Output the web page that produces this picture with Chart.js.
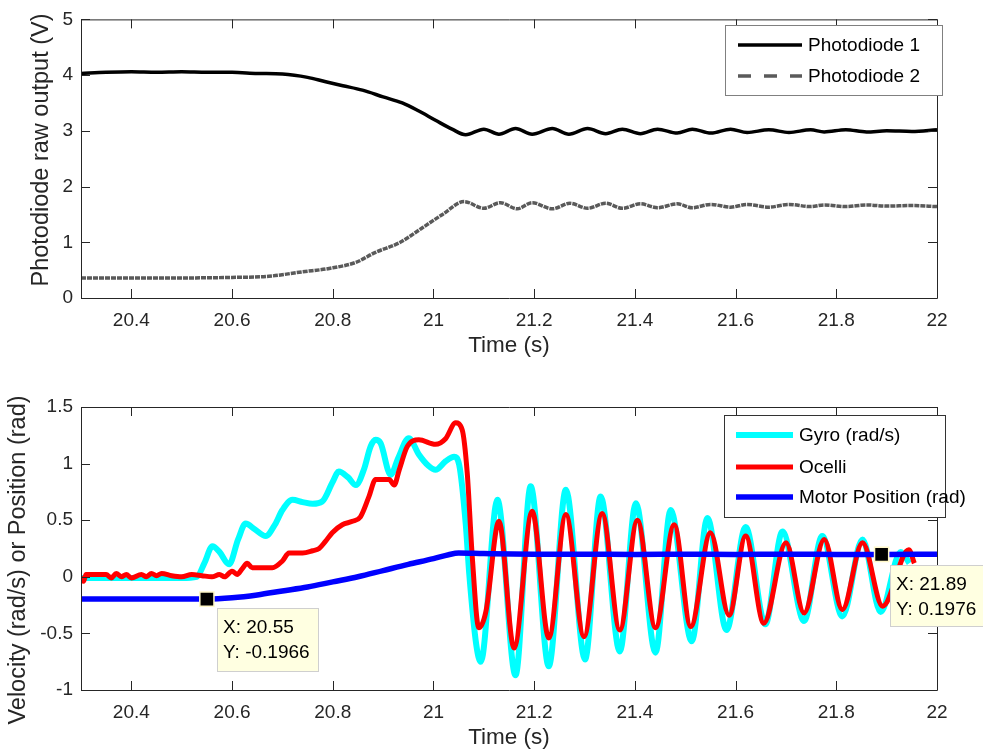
<!DOCTYPE html>
<html lang="en">
  <head>
    <meta charset="UTF-8" />
    <title>Photodiode and ocelli response</title>
    <style>
      body { margin: 0; background: #fff; }
      .panel { position: absolute; left: 0; width: 983px; height: 376px; }
    </style>
  </head>
  <body>
    <div class="panel" style="top: 0"><canvas id="topChart" width="983" height="376"></canvas></div>
    <div class="panel" style="top: 376px"><canvas id="bottomChart" width="983" height="376"></canvas></div>
    <script src="https://cdn.jsdelivr.net/npm/chart.js"></script>
    <script>
      // ---- data ----
      const xTicks = [20.4, 20.6, 20.8, 21, 21.2, 21.4, 21.6, 21.8, 22];
      const topYTicks = [0, 1, 2, 3, 4, 5];
      const bottomYTicks = [-1, -0.5, 0, 0.5, 1, 1.5];

      const pd1Time = [20.3, 20.35, 20.4, 20.45, 20.5, 20.55, 20.6, 20.65, 20.7, 20.75, 20.786, 20.82, 20.859, 20.9, 20.938, 20.97, 21.004, 21.037, 21.064, 21.1, 21.13, 21.163, 21.196, 21.236, 21.269, 21.306, 21.342, 21.375, 21.411, 21.445, 21.484, 21.514, 21.551, 21.59, 21.623, 21.666, 21.706, 21.749, 21.776, 21.819, 21.86, 21.9, 21.95, 22];
      const pd1Volts = [4.03, 4.05, 4.06, 4.05, 4.06, 4.05, 4.05, 4.03, 4.02, 3.96, 3.88, 3.81, 3.73, 3.61, 3.5, 3.36, 3.19, 3.03, 2.93, 3.03, 2.94, 3.04, 2.94, 3.04, 2.94, 3.04, 2.95, 3.03, 2.95, 3.03, 2.96, 3.03, 2.96, 3.03, 2.97, 3.02, 2.97, 3.02, 2.98, 3.02, 2.98, 3.0, 2.99, 3.02];

      const pd2Time = [20.3, 20.4, 20.5, 20.6, 20.673, 20.74, 20.793, 20.846, 20.885, 20.932, 20.978, 21.018, 21.061, 21.1, 21.133, 21.166, 21.196, 21.236, 21.271, 21.306, 21.342, 21.375, 21.411, 21.445, 21.484, 21.514, 21.551, 21.59, 21.623, 21.666, 21.706, 21.749, 21.776, 21.819, 21.86, 21.9, 21.95, 22];
      const pd2Volts = [0.36, 0.36, 0.36, 0.37, 0.39, 0.47, 0.53, 0.64, 0.82, 0.99, 1.26, 1.5, 1.73, 1.61, 1.71, 1.6, 1.71, 1.6, 1.7, 1.61, 1.7, 1.61, 1.69, 1.62, 1.69, 1.62, 1.68, 1.63, 1.68, 1.63, 1.68, 1.64, 1.67, 1.64, 1.67, 1.65, 1.66, 1.64];

      const gyroTime = [20.3, 20.35, 20.4, 20.45, 20.5, 20.53, 20.545, 20.561, 20.575, 20.594, 20.612, 20.627, 20.645, 20.667, 20.685, 20.7, 20.72, 20.74, 20.76, 20.779, 20.8, 20.812, 20.83, 20.846, 20.862, 20.875, 20.885, 20.895, 20.915, 20.93, 20.951, 20.971, 20.99, 21.004, 21.024, 21.041, 21.051, 21.064, 21.071, 21.085, 21.094, 21.127, 21.163, 21.193, 21.229, 21.263, 21.301, 21.332, 21.37, 21.402, 21.441, 21.471, 21.513, 21.544, 21.582, 21.62, 21.659, 21.693, 21.736, 21.772, 21.812, 21.852, 21.888, 21.928, 21.945];
      const gyroVel = [-0.01, -0.01, -0.01, -0.01, -0.01, 0.0, 0.12, 0.27, 0.22, 0.11, 0.33, 0.47, 0.42, 0.36, 0.46, 0.59, 0.68, 0.66, 0.645, 0.665, 0.84, 0.93, 0.88, 0.81, 0.95, 1.15, 1.21, 1.18, 0.9, 1.05, 1.225, 1.08, 0.98, 0.945, 1.02, 1.06, 0.99, 0.47, 0.03, -0.6, -0.75, 0.68, -0.87, 0.8, -0.79, 0.77, -0.73, 0.71, -0.66, 0.65, -0.67, 0.59, -0.57, 0.52, -0.47, 0.44, -0.42, 0.4, -0.39, 0.36, -0.35, 0.33, -0.31, 0.22, 0.12];

      const ocelliTime = [20.3, 20.305, 20.31, 20.33, 20.35, 20.36, 20.37, 20.38, 20.39, 20.4, 20.42, 20.43, 20.44, 20.45, 20.46, 20.48, 20.5, 20.52, 20.54, 20.56, 20.575, 20.585, 20.6, 20.61, 20.62, 20.63, 20.64, 20.68, 20.7, 20.713, 20.74, 20.76, 20.773, 20.785, 20.799, 20.819, 20.839, 20.855, 20.872, 20.885, 20.912, 20.922, 20.932, 20.948, 20.971, 21.004, 21.024, 21.044, 21.057, 21.067, 21.077, 21.09, 21.104, 21.13, 21.16, 21.196, 21.229, 21.263, 21.299, 21.335, 21.37, 21.405, 21.441, 21.478, 21.511, 21.55, 21.587, 21.62, 21.656, 21.7, 21.736, 21.776, 21.812, 21.852, 21.892, 21.944, 21.955];
      const ocelliVel = [0.0, -0.04, 0.02, 0.02, 0.02, -0.01, 0.03, 0.0, 0.02, -0.01, 0.02, 0.0, 0.03, 0.01, 0.03, 0.01, 0.0, 0.02, 0.01, 0.0, 0.02, 0.0, 0.05, 0.02, 0.07, 0.12, 0.08, 0.08, 0.14, 0.21, 0.21, 0.23, 0.25, 0.31, 0.39, 0.46, 0.49, 0.53, 0.71, 0.86, 0.86, 0.81, 0.945, 1.15, 1.21, 1.17, 1.22, 1.36, 1.3, 0.92, 0.18, -0.45, -0.31, 0.49, -0.63, 0.58, -0.54, 0.55, -0.53, 0.56, -0.47, 0.5, -0.45, 0.46, -0.44, 0.39, -0.34, 0.36, -0.41, 0.3, -0.32, 0.33, -0.29, 0.3, -0.26, 0.24, 0.12];

      const motorTime = [20.3, 20.4, 20.5, 20.55, 20.6, 20.65, 20.7, 20.75, 20.8, 20.85, 20.9, 20.95, 21.0, 21.03, 21.05, 21.1, 21.2, 21.3, 21.4, 21.5, 21.6, 21.7, 21.8, 21.89, 22];
      const motorPos = [-0.197, -0.197, -0.197, -0.1966, -0.185, -0.16, -0.125, -0.09, -0.045, 0.0, 0.055, 0.11, 0.16, 0.195, 0.21, 0.205, 0.2, 0.2, 0.198, 0.2, 0.198, 0.2, 0.198, 0.1976, 0.2];

      const tipTime = [20.55, 21.89];
      const tipValue = [-0.1966, 0.1976];

      // ---- look ----
      const FONT = "'Liberation Sans', Arial, sans-serif";
      const AXIS_COLOR = '#262626';
      const TICK = 9;

      const pts = (xs, ys) => xs.map((x, i) => ({ x: x, y: ys[i] }));

      // MATLAB style box with inward ticks
      const matlabAxes = {
        id: 'matlabAxes',
        afterDatasetsDraw(chart) {
          const { ctx, chartArea: a } = chart;
          const xs = chart.scales.x;
          const ys = chart.scales.y;
          ctx.save();
          ctx.strokeStyle = AXIS_COLOR;
          ctx.lineWidth = 1;
          ctx.beginPath();
          xs.ticks.forEach((t) => {
            const px = Math.round(xs.getPixelForValue(t.value)) + 0.5;
            ctx.moveTo(px, a.bottom);
            ctx.lineTo(px, a.bottom - TICK);
            ctx.moveTo(px, a.top);
            ctx.lineTo(px, a.top + TICK);
          });
          ys.ticks.forEach((t) => {
            const py = Math.round(ys.getPixelForValue(t.value)) + 0.5;
            ctx.moveTo(a.left, py);
            ctx.lineTo(a.left + TICK, py);
            ctx.moveTo(a.right, py);
            ctx.lineTo(a.right - TICK, py);
          });
          ctx.rect(a.left + 0.5, a.top + 0.5, a.right - a.left, a.bottom - a.top);
          ctx.stroke();
          ctx.restore();
        },
      };

      // rotated y label, placed like the figure
      const sideTitle = {
        id: 'sideTitle',
        afterDraw(chart, args, o) {
          if (!o.text) return;
          const ctx = chart.ctx;
          ctx.save();
          ctx.translate(o.x, o.y);
          ctx.rotate(-Math.PI / 2);
          ctx.fillStyle = AXIS_COLOR;
          ctx.font = o.size + 'px ' + FONT;
          ctx.textAlign = 'center';
          ctx.textBaseline = 'middle';
          ctx.fillText(o.text, 0, 0);
          ctx.restore();
        },
      };

      // boxed legend inside the axes
      const boxLegend = {
        id: 'boxLegend',
        afterDraw(chart, args, o) {
          if (!o.box) return;
          const ctx = chart.ctx;
          const [bx, by, bw, bh] = o.box;
          ctx.save();
          ctx.fillStyle = '#fff';
          ctx.fillRect(bx, by, bw, bh);
          ctx.strokeStyle = o.border;
          ctx.lineWidth = 1;
          ctx.strokeRect(bx + 0.5, by + 0.5, bw, bh);
          ctx.font = o.size + 'px ' + FONT;
          ctx.textBaseline = 'middle';
          ctx.textAlign = 'left';
          o.items.forEach((idx, i) => {
            const ds = chart.data.datasets[idx];
            const y = o.rows[i];
            ctx.beginPath();
            ctx.strokeStyle = ds.borderColor;
            ctx.lineWidth = ds.borderWidth;
            ctx.setLineDash(ds.legendDash || []);
            ctx.moveTo(o.lineX[0], y);
            ctx.lineTo(o.lineX[1], y);
            ctx.stroke();
            ctx.setLineDash([]);
            ctx.fillStyle = '#000';
            ctx.fillText(ds.label, o.textX, y + 1);
          });
          ctx.restore();
        },
      };

      // MATLAB data-tip boxes
      const dataTips = {
        id: 'dataTips',
        afterDraw(chart, args, o) {
          if (!o.boxes) return;
          const ctx = chart.ctx;
          ctx.save();
          ctx.font = o.size + 'px ' + FONT;
          ctx.textBaseline = 'middle';
          o.boxes.forEach((b, i) => {
            ctx.fillStyle = '#ffffe1';
            ctx.fillRect(b.x, b.y, b.w, b.h);
            ctx.strokeStyle = '#cfcfcf';
            ctx.lineWidth = 1;
            ctx.strokeRect(b.x + 0.5, b.y + 0.5, b.w, b.h);
            ctx.fillStyle = '#000';
            ctx.fillText('X: ' + tipTime[i], b.x + 6, b.y + 20);
            ctx.fillText('Y: ' + tipValue[i], b.x + 6, b.y + 45);
          });
          ctx.restore();
        },
      };

      function makeScales(yMin, yMax, yTicks, xAxisHeight, titlePadBottom) {
        return {
          x: {
            type: 'linear',
            min: 20.3,
            max: 22,
            afterBuildTicks: (s) => { s.ticks = xTicks.map((v) => ({ value: v })); },
            afterFit: (s) => { s.height = xAxisHeight; },
            grid: { display: false, drawTicks: false },
            border: { display: false },
            ticks: {
              padding: 11, autoSkip: false, maxRotation: 0, color: AXIS_COLOR,
              font: { family: FONT, size: 19 },
              callback: (v) => String(v),
            },
            title: {
              display: true, text: 'Time (s)', color: AXIS_COLOR,
              font: { family: FONT, size: 22.5 },
              padding: { top: 0, bottom: titlePadBottom },
            },
          },
          y: {
            min: yMin,
            max: yMax,
            afterBuildTicks: (s) => { s.ticks = yTicks.map((v) => ({ value: v })); },
            afterFit: (s) => { s.width = 81; },
            grid: { display: false, drawTicks: false },
            border: { display: false },
            ticks: {
              padding: 8, autoSkip: false, color: AXIS_COLOR,
              font: { family: FONT, size: 19 },
              callback: (v) => String(v),
            },
          },
        };
      }

      const lineDefaults = {
        pointRadius: 0,
        cubicInterpolationMode: 'monotone',
        borderJoinStyle: 'round',
        fill: false,
      };

      new Chart(document.getElementById('topChart'), {
        type: 'line',
        data: {
          datasets: [
            { ...lineDefaults, label: 'Photodiode 1', data: pts(pd1Time, pd1Volts), borderColor: '#000000', borderWidth: 3.5 },
            { ...lineDefaults, label: 'Photodiode 2', data: pts(pd2Time, pd2Volts), borderColor: '#5a5a5a', borderWidth: 3.5, borderDash: [5, 1], legendDash: [13, 13] },
          ],
        },
        options: {
          responsive: false,
          animation: false,
          events: [],
          layout: { padding: { left: 0, top: 15, right: 46, bottom: 0 } },
          scales: makeScales(0, 5, topYTicks, 78, 17),
          plugins: {
            legend: { display: false },
            tooltip: { enabled: false },
            sideTitle: { text: 'Photodiode raw output (V)', x: 42, y: 150, size: 23.5 },
            boxLegend: { box: [725, 25, 217, 70], border: '#808080', size: 19, lineX: [738, 802], textX: 808, rows: [45, 76], items: [0, 1] },
          },
        },
        plugins: [matlabAxes, sideTitle, boxLegend],
      });

      new Chart(document.getElementById('bottomChart'), {
        type: 'line',
        data: {
          datasets: [
            { type: 'scatter', label: 'Data tips', data: pts(tipTime, tipValue), order: 0, showLine: false, pointStyle: 'rect', pointRadius: 10, backgroundColor: '#000000', borderColor: '#fff8c8', borderWidth: 1.5 },
            { ...lineDefaults, label: 'Motor Position (rad)', data: pts(motorTime, motorPos), order: 1, borderColor: '#0000ff', borderWidth: 5.5 },
            { ...lineDefaults, label: 'Ocelli', data: pts(ocelliTime, ocelliVel), order: 2, borderColor: '#ff0000', borderWidth: 5 },
            { ...lineDefaults, label: 'Gyro (rad/s)', data: pts(gyroTime, gyroVel), order: 3, borderColor: '#00ffff', borderWidth: 6 },
          ],
        },
        options: {
          responsive: false,
          animation: false,
          events: [],
          layout: { padding: { left: 0, top: 31, right: 46, bottom: 0 } },
          scales: makeScales(-1, 1.5, bottomYTicks, 62, 1),
          plugins: {
            legend: { display: false },
            tooltip: { enabled: false },
            sideTitle: { text: 'Velocity (rad/s) or Position (rad)', x: 19, y: 184, size: 23.5 },
            boxLegend: { box: [724, 39, 221, 102], border: '#333333', size: 19, lineX: [736, 793], textX: 799, rows: [59, 91, 121], items: [3, 2, 1] },
            dataTips: {
              size: 19,
              boxes: [
                { x: 217, y: 232, w: 101, h: 63 },
                { x: 890, y: 189, w: 95, h: 61 },
              ],
            },
          },
        },
        plugins: [matlabAxes, sideTitle, boxLegend, dataTips],
      });
    </script>
  </body>
</html>
